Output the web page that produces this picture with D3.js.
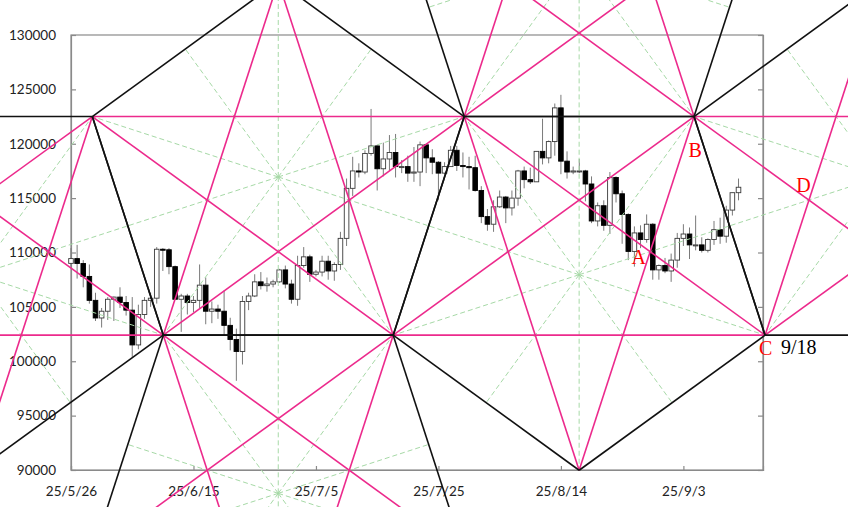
<!DOCTYPE html>
<html>
<head>
<meta charset="utf-8">
<script src="https://cdn.jsdelivr.net/npm/d3@7"></script>
<style>
  body { margin: 0; background: #fff; }
  svg { display: block; }
</style>
</head>
<body>
<svg id="drawing_region"></svg>
<script>
// daily candles, first day then one entry per day
const firstDay = "2025-05-26";
const open = [109000,109440,108990,107800,105600,103980,104600,105700,105900,105400,
  104700,101500,104300,105600,105800,110300,110250,108700,105700,106000,
  105400,105600,107000,104600,104800,104600,103300,102000,100900,105500,
  106000,107300,106950,107100,107300,108400,107100,105700,108800,109600,
  108000,108200,109200,108300,108900,111300,115900,117500,117400,119100,
  119800,117700,118600,119200,117900,117900,117300,117400,119900,118700,
  118300,117300,117900,119400,118000,117900,117800,115700,113300,112600,
  114200,115100,114100,115000,117500,116700,116500,119300,118700,120200,
  123300,118400,117400,117500,117500,116300,112900,114300,112500,116900,
  115400,113500,110100,111800,111200,112600,108400,108800,108300,109300,
  111300,111700,110700,110700,110200,111200,112100,111500,113900,115500];
const high = [110400,110700,109300,108900,106300,104900,105900,105950,106800,106000,
  105900,105200,105900,106300,110500,110400,110400,108800,106200,106200,
  106000,108900,107700,105500,105200,106500,104000,103000,106000,106300,
  108000,108200,107700,107500,108500,108800,107500,109700,110500,109800,
  108400,109700,109700,109100,111900,116800,118800,118200,119400,123200,
  119900,120100,120800,120900,118500,118900,119700,120200,120000,119500,
  118400,118300,119800,119800,119200,118800,118900,116100,114000,114800,
  115700,115200,115700,117600,117900,117800,119300,122300,120300,123700,
  124500,119300,117900,118600,117600,117000,114600,114800,117400,117000,
  115700,113600,112400,112500,113500,112700,108900,109500,109900,111800,
  112600,112300,113400,111400,111300,112900,113200,114300,115500,116800];
const low = [108700,107600,106800,105300,103700,103100,103800,103700,104900,104200,
  100400,101100,103900,105000,105300,108300,108000,105700,102700,104300,
  104500,104900,103400,103500,103900,102400,101000,98200,99700,104700,
  105900,106600,106400,106800,107200,106700,105300,105100,108600,107300,
  107800,107800,107500,107400,108400,110600,115200,116900,117200,118900,
  115700,117000,117500,116900,117300,116500,116500,116100,117300,117200,
  114800,117200,117900,117500,116900,115800,115600,112700,112000,111900,
  114100,112700,113400,114300,115900,116300,116500,118100,118200,118900,
  117200,116800,117200,117300,114700,112700,112400,112000,111700,114600,
  110800,109300,108700,110400,110900,107500,107500,108100,107300,108600,
  110600,109400,110200,110000,110000,110700,110800,110900,113400,114800];
const close = [109440,108990,107800,105600,103980,104600,105700,105900,105400,104700,
  101500,104300,105600,105800,110300,110250,108700,105700,106000,105400,
  105600,107000,104600,104800,104600,103300,102000,100900,105500,106000,
  107300,106950,107100,107300,108400,107100,105700,108800,109600,108000,
  108200,109200,108300,108900,111300,115900,117500,117400,119100,119800,
  117700,118600,119200,117900,117900,117300,117400,119900,118700,118300,
  117300,117900,119400,118000,117900,117800,115700,113300,112600,114200,
  115100,114100,115000,117500,116700,116500,119300,118700,120200,123300,
  118400,117400,117500,117500,116300,112900,114300,112500,116900,115400,
  113500,110100,111800,111200,112600,108400,108800,108300,109300,111300,
  111700,110700,110700,110200,111200,112100,111500,113900,115500,116000];

const priceTicks = [90000,95000,100000,105000,110000,115000,120000,125000,130000];
const dateTicks = ["2025-05-26","2025-06-15","2025-07-05","2025-07-25","2025-08-14","2025-09-03"];
const dateRange = ["2025-05-26","2025-09-16"];

// two upper corners of the first pentagon (time, price)
const pentaCorners = [["2025-05-29T11:30", 122500], ["2025-07-29T05:00", 122500]];
const pointNames = ["A", "B", "C", "D"];
const dateNote = "9/18";

const config = { width: 848, height: 507, left: 71, right: 763, top: 35, bottom: 470 };

const parseDay = d3.timeParse("%Y-%m-%d");
const parseTime = d3.timeParse("%Y-%m-%dT%H:%M");

const svg = d3.select('#drawing_region')
    .attr('width', config.width)
    .attr('height', config.height);

const x = d3.scaleTime()
    .domain(dateRange.map(parseDay))
    .range([config.left, config.right]);
const y = d3.scaleLinear()
    .domain([priceTicks[0], priceTicks[priceTicks.length - 1]])
    .range([config.bottom, config.top]);

const start = parseDay(firstDay);
const candles = close.map((c, i) => ({
    date: d3.timeDay.offset(start, i), o: open[i], h: high[i], l: low[i], c: c
}));

// frame and axes
const axisColor = '#8a8a8a';
svg.append('rect')
    .attr('x', config.left).attr('y', config.top)
    .attr('width', config.right - config.left).attr('height', config.bottom - config.top)
    .attr('fill', 'none').attr('stroke', axisColor).attr('stroke-width', 1.2);

const yAxis = svg.append('g')
    .attr('transform', `translate(${config.left},0)`)
    .call(d3.axisLeft(y).tickValues(priceTicks).tickSize(-5).tickPadding(15).tickFormat(d3.format('d')));
const yAxisR = svg.append('g')
    .attr('transform', `translate(${config.right},0)`)
    .call(d3.axisRight(y).tickValues(priceTicks).tickSize(-5).tickFormat(''));
const xAxis = svg.append('g')
    .attr('transform', `translate(0,${config.bottom})`)
    .call(d3.axisBottom(x).tickValues(dateTicks.map(parseDay)).tickSize(-4).tickPadding(16)
        .tickFormat(d3.timeFormat('%y/%-m/%-d')));

[yAxis, yAxisR, xAxis].forEach(g => {
    g.select('.domain').attr('stroke', axisColor).attr('stroke-width', 1.2);
    g.selectAll('.tick line').attr('stroke', axisColor).attr('stroke-width', 1.2);
    g.selectAll('text')
        .attr('fill', '#222')
        .style('font-family', 'Lato, "Liberation Sans", sans-serif')
        .style('font-size', '13.5px');
});

// candles
const bodyW = 4.6;
const cg = svg.append('g');
cg.selectAll('line.wick')
    .data(candles)
    .enter()
    .append('line')
    .attr('x1', d => x(d.date)).attr('x2', d => x(d.date))
    .attr('y1', d => y(d.h)).attr('y2', d => y(d.l))
    .attr('stroke', '#7a7a7a').attr('stroke-width', 1);
cg.selectAll('rect.body')
    .data(candles)
    .enter()
    .append('rect')
    .attr('x', d => x(d.date) - bodyW / 2)
    .attr('y', d => y(Math.max(d.o, d.c)))
    .attr('width', bodyW)
    .attr('height', d => Math.max(1, Math.abs(y(d.o) - y(d.c))))
    .attr('fill', d => d.c >= d.o ? '#fff' : '#000')
    .attr('stroke', d => d.c >= d.o ? '#3a3a3a' : '#000')
    .attr('stroke-width', 0.9);

// pentagon chain, built in screen space from the two corners
const deg = Math.PI / 180;
const p1 = [x(parseTime(pentaCorners[0][0])), y(pentaCorners[0][1])];
const p2 = [x(parseTime(pentaCorners[1][0])), y(pentaCorners[1][1])];
const R = (p2[0] - p1[0]) / (2 * Math.cos(18 * deg));
const c0 = [(p1[0] + p2[0]) / 2, p1[1] + R * Math.sin(18 * deg)];
const baseP = {
    c: c0,
    v: [-90, -18, 54, 126, 198].map(a => [c0[0] + R * Math.cos(a * deg), c0[1] + R * Math.sin(a * deg)])
};

function reflectPt(p, a, b) {
    const dx = b[0] - a[0], dy = b[1] - a[1];
    const t = ((p[0] - a[0]) * dx + (p[1] - a[1]) * dy) / (dx * dx + dy * dy);
    const fx = a[0] + t * dx, fy = a[1] + t * dy;
    return [2 * fx - p[0], 2 * fy - p[1]];
}
function reflectPenta(P, i) {
    const a = P.v[i], b = P.v[(i + 1) % 5];
    return { c: reflectPt(P.c, a, b), v: P.v.map(p => reflectPt(p, a, b)) };
}
function cross(a1, a2, b1, b2) {
    const d = (a1[0] - a2[0]) * (b1[1] - b2[1]) - (a1[1] - a2[1]) * (b1[0] - b2[0]);
    const t = ((a1[0] - b1[0]) * (b1[1] - b2[1]) - (a1[1] - b1[1]) * (b1[0] - b2[0])) / d;
    return [a1[0] + t * (a2[0] - a1[0]), a1[1] + t * (a2[1] - a1[1])];
}

const pL = baseP;                 // [top, V5, V4, V2, V1]
const pR = reflectPenta(pL, 1);   // [B, V5, V4, V6, C]
const pL2 = reflectPenta(pR, 4);  // [B, .., .., .., C]
const pR0 = reflectPenta(pL, 3);
const pLd = reflectPenta(pL, 2);
const pRu = reflectPenta(pR, 0);
const pentas = [pL, pR, pL2, pR0, pLd, pRu];

const segs = { green: [], pink: [], black: [] };
pentas.forEach(P => {
    for (let i = 0; i < 5; i++) {
        const a = P.v[i], b = P.v[(i + 1) % 5];
        segs.black.push([a, b]);
        segs.pink.push([a, P.v[(i + 2) % 5]]);
        segs.green.push([P.c, a]);
        segs.green.push([P.c, [(a[0] + b[0]) / 2, (a[1] + b[1]) / 2]]);
    }
});

const line = d3.line();
const lg = svg.append('g').attr('fill', 'none');
lg.selectAll('path.green')
    .data(segs.green)
    .enter()
    .append('path')
    .attr('d', line)
    .attr('stroke', '#a6d9a6').attr('stroke-width', 1).attr('stroke-dasharray', '5,3');
lg.selectAll('path.pink')
    .data(segs.pink)
    .enter()
    .append('path')
    .attr('d', line)
    .attr('stroke', '#ec2a8c').attr('stroke-width', 1.6);
lg.selectAll('path.black')
    .data(segs.black)
    .enter()
    .append('path')
    .attr('d', line)
    .attr('stroke', '#111').attr('stroke-width', 1.6);

// named points
const B = pR.v[0], C = pR.v[4];
const A = cross(pR.v[1], pR.v[4], pR.v[3], pR.v[0]);
const D = cross(pL2.v[0], pL2.v[3], pL2.v[4], pL2.v[1]);
const labelPts = [
    { name: pointNames[0], p: A, dx: -11.5, dy: 12 },
    { name: pointNames[1], p: B, dx: 1, dy: 40.5 },
    { name: pointNames[2], p: C, dx: 0.7, dy: 20 },
    { name: pointNames[3], p: D, dx: -5.5, dy: -8.5 }
];
svg.append('g').selectAll('text')
    .data(labelPts)
    .enter()
    .append('text')
    .attr('x', d => d.p[0] + d.dx)
    .attr('y', d => d.p[1] + d.dy)
    .attr('text-anchor', 'middle')
    .attr('fill', '#ff0000')
    .style('font-family', '"Liberation Serif", "DejaVu Serif", serif')
    .style('font-size', '20px')
    .text(d => d.name);
svg.append('text')
    .attr('x', C[0] + 16)
    .attr('y', C[1] + 19)
    .attr('fill', '#000')
    .style('font-family', '"Liberation Serif", "DejaVu Serif", serif')
    .style('font-size', '20px')
    .text(dateNote);
</script>
</body>
</html>
